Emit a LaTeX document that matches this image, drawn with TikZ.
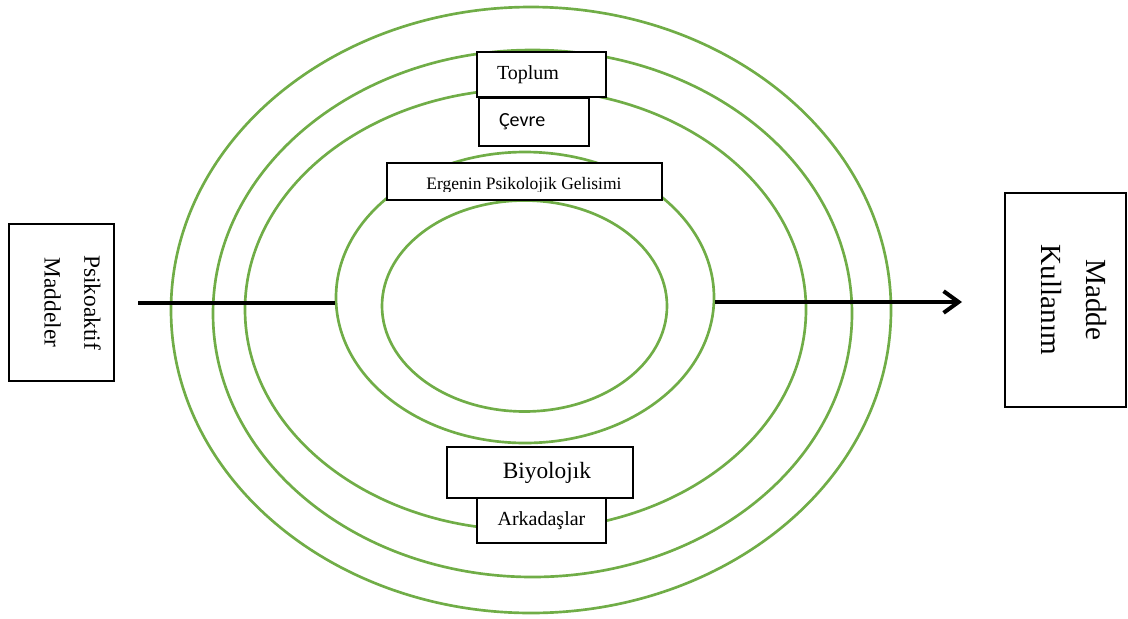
\documentclass[tikz,border=0pt]{standalone}
\usepackage{fontspec}
\setmainfont{Liberation Serif}
\newfontfamily\calibrifont{Carlito}
\usepackage{tikz}
\usetikzlibrary{arrows.meta,shapes}
\definecolor{ringgreen}{RGB}{112,173,71}

\begin{document}
\begin{tikzpicture}
[x = 0.6pt, y = -0.6pt]
\tikzset{
	ring/.style = {ellipse, draw = ringgreen, line width = 1.6pt, inner sep = 0},
	box/.style = {rectangle, draw, fill = white, line width = 0.8pt, inner sep = 0},
	flow/.style = {line width = 2.4pt},
	sidetext/.style = {rotate = -90, align = center}
}

\useasboundingbox (0,0) rectangle (1128,618);

\node(ring1) [ring, minimum width = 432pt, minimum height = 363.6pt] at (531,310) {};
\node(ring2) [ring, minimum width = 383.4pt, minimum height = 316.2pt] at (532.5,313.5) {};
\node(ring3) [ring, minimum width = 336.6pt, minimum height = 264.6pt] at (525.5,309.5) {};
\node(ring4) [ring, minimum width = 226.8pt, minimum height = 174.6pt] at (525,297.5) {};
\node(ring5) [ring, minimum width = 171pt, minimum height = 126.6pt] at (524.5,306) {};

\coordinate (src) at (138,302.5);
\coordinate (dst) at (962,302);
\draw [flow] (src) -- (src -| ring4.west);
\draw [flow, -{Straight Barb[length = 9pt, width = 13pt]}] (ring4.east |- dst) -- (dst);

\node(toplum) [box, minimum width = 77.4pt, minimum height = 27pt, inner xsep = 12pt,
	text width = 53.4pt, align = left, font = \fontsize{12}{14}\selectfont] at (541.5,74.5) {Toplum};
\node(cevre) [box, minimum width = 66pt, minimum height = 28.8pt, inner xsep = 12pt,
	text width = 42pt, align = left, font = \calibrifont\fontsize{12}{14}\selectfont] at (534,122) {Çevre};

\node(ergenin) [box, minimum width = 165pt, minimum height = 22.2pt] at (524.5,181.5) {};
\begin{scope}
	\clip (ergenin.north west) rectangle ([yshift = 5.4pt]ergenin.south east);
	\node(ergtxt) [anchor = base, inner sep = 0, font = \fontsize{10.5}{12}\selectfont] at (524,189.5) {Ergenin Psikolojik Gelisimi};
\end{scope}

\node(biyo) [box, minimum width = 111.6pt, minimum height = 30.6pt, inner xsep = 25.2pt,
	text width = 61.2pt, align = right, font = \fontsize{14}{16}\selectfont] at (540,472.5) {Biyolojık};
\node(arkadas) [box, minimum width = 77.4pt, minimum height = 27pt,
	font = \fontsize{12}{14}\selectfont] at (541.5,520.5) {Arkadaşlar};

\node(psiko) [box, minimum width = 63pt, minimum height = 94.2pt] at (61.5,302.5) {};
\node(psikotxt) [sidetext, font = \fontsize{14}{24}\selectfont] at (72.6,302.5) {Psikoaktif\\Maddeler};

\node(madde) [box, minimum width = 72.6pt, minimum height = 128.4pt] at (1065.5,300) {};
\node(maddetxt) [sidetext, font = \fontsize{17.5}{27}\selectfont] at (1073.5,300) {Madde\\Kullanım};

\end{tikzpicture}
\end{document}
